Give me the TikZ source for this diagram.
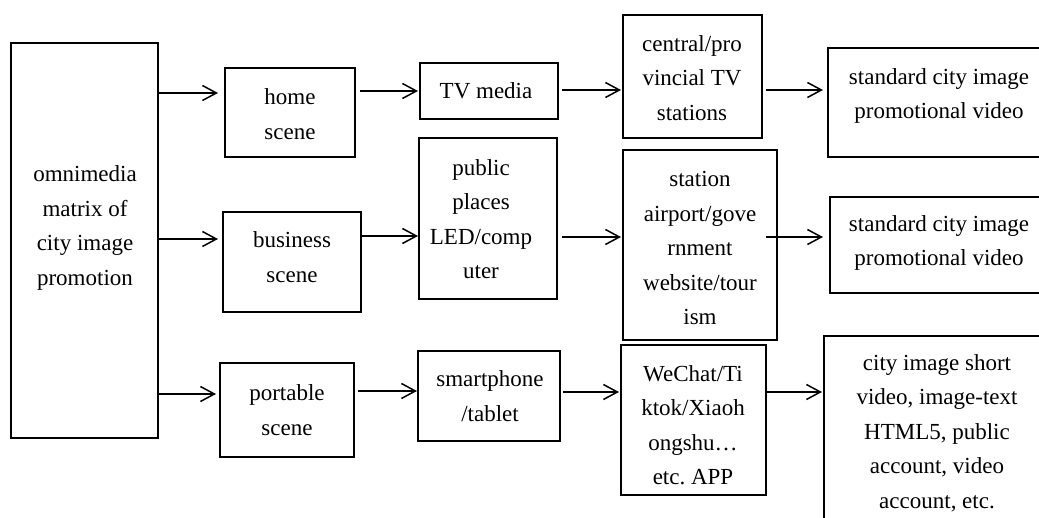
\documentclass[tikz,border=0pt]{standalone}
\usepackage{fontspec}
\setmainfont{Liberation Serif}
\usetikzlibrary{arrows.meta}
\tikzset{
  box/.style={draw, line width=2.8pt, inner sep=0pt, outer sep=0pt, anchor=north west},
  txt/.style={align=center, font=\fontsize{23}{34.5}\selectfont, inner sep=0pt},
  arr/.style={line width=1.5pt, -{Straight Barb[length=14pt,width=15pt,line width=1.5pt]}},
}
\begin{document}
\begin{tikzpicture}[x=1pt,y=-1pt]
\useasboundingbox (0,0) rectangle (1039,518);
\clip (0,0) rectangle (1039,518);
% boxes
\node[box, minimum width=147pt, minimum height=395pt] (omni) at (11,43) {};
\node[box, minimum width=130pt, minimum height=89pt]  (home) at (225,68) {};
\node[box, minimum width=138pt, minimum height=100pt] (bus)  at (223,212) {};
\node[box, minimum width=134pt, minimum height=94pt]  (port) at (220,363) {};
\node[box, minimum width=138pt, minimum height=56pt]  (tv)   at (420,63) {};
\node[box, minimum width=138pt, minimum height=161pt] (pub)  at (419,138) {};
\node[box, minimum width=142pt, minimum height=90pt]  (smart) at (418,351) {};
\node[box, minimum width=139pt, minimum height=123pt] (cent) at (623,15) {};
\node[box, minimum width=154pt, minimum height=190pt] (stat) at (623,150) {};
\node[box, minimum width=145pt, minimum height=150pt] (wech) at (621,345) {};
\node[box, minimum width=230pt, minimum height=109pt] (stdA) at (828,48) {};
\node[box, minimum width=230pt, minimum height=96pt]  (stdB) at (830,197) {};
\node[box, minimum width=230pt, minimum height=250pt] (city) at (824,336) {};
% texts
\node[txt] (omniT) at (85,228) {omnimedia\\matrix of\\city image\\promotion};
\node[txt] (homeT) at (290,114) {home\\scene};
\node[txt] (busT) at (292,257) {business\\scene};
\node[txt] (portT) at (287,410) {portable\\scene};
\node[txt] (tvT) at (486,91) {TV media};
\node[txt] (pubT) at (481,219) {public\\places\\LED/comp\\uter};
\node[txt] (smartT) at (490,396) {smartphone\\/tablet};
\node[txt] (centT) at (692,78) {central/pro\\vincial TV\\stations};
\node[txt] (statT) at (700,248) {station\\airport/gove\\rnment\\website/tour\\ism};
\node[txt] (wechT) at (693,425) {WeChat/Ti\\ktok/Xiaoh\\ongshu\ldots\\etc.\ APP};
\node[txt] (stdAT) at (939,96) {standard city image\\promotional video};
\node[txt] (stdBT) at (939,243) {standard city image\\promotional video};
\node[txt] (cityT) at (937,433) {city image short\\video, image-text\\HTML5, public\\account, video\\account, etc.};
% arrows
\draw[arr, shorten >=7pt] (omni.east |- 0,93) -- (home.west |- 0,93);
\draw[arr, shorten >=5pt] (omni.east |- 0,239) -- (bus.west |- 0,239);
\draw[arr, shorten >=4pt] (omni.east |- 0,394) -- (port.west |- 0,394);
\draw[arr, shorten <=5pt, shorten >=2pt] (home.east |- 0,91) -- (tv.west |- 0,91);
\draw[arr, shorten >=1pt] (bus.east |- 0,236) -- (pub.west |- 0,236);
\draw[arr, shorten <=4pt, shorten >=1pt] (port.east |- 0,391) -- (smart.west |- 0,391);
\draw[arr, shorten <=4pt, shorten >=2pt] (tv.east |- 0,90) -- (cent.west |- 0,90);
\draw[arr, shorten <=5pt, shorten >=2pt] (pub.east |- 0,237) -- (stat.west |- 0,237);
\draw[arr, shorten <=3pt, shorten >=2pt] (smart.east |- 0,392) -- (wech.west |- 0,392);
\draw[arr, shorten <=4pt, shorten >=5pt] (cent.east |- 0,90) -- (stdA.west |- 0,90);
\draw[arr, shorten <=-11pt, shorten >=7pt] (stat.east |- 0,237) -- (stdB.west |- 0,237);
\draw[arr, shorten >=2pt] (wech.east |- 0,392) -- (city.west |- 0,392);
\end{tikzpicture}
\end{document}
